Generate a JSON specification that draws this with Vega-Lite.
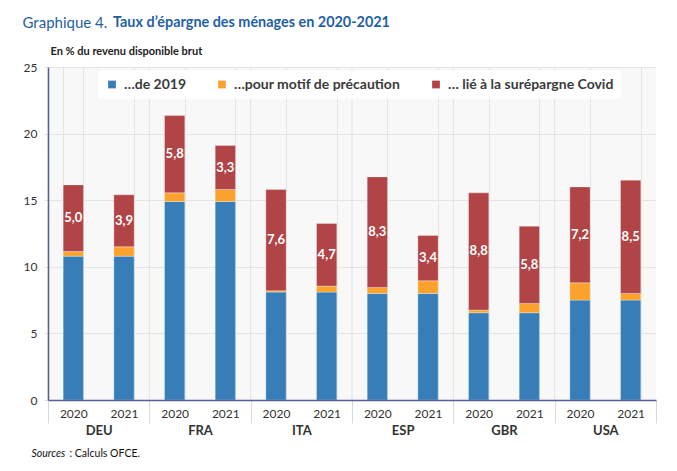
{
  "$schema": "https://vega.github.io/schema/vega-lite/v6.json",
  "width": 608,
  "height": 333,
  "autosize": {"type": "none"},
  "padding": {"left": 48, "top": 67, "right": 21, "bottom": 71},
  "background": "white",
  "title": {"text": "Taux d’épargne des ménages en 2020-2021", "anchor": "start", "frame": "group", "dx": 65, "dy": 19, "font": "Lato", "fontSize": 14.4, "fontWeight": "bold", "color": "#1f5fa6", "offset": 4},
  "datasets": {
    "savings": [
      {"country": "DEU", "year": 2020, "key": "DEU 2020", "segment": "…de 2019", "ord": 1, "value": 10.8, "label": ""},
      {"country": "DEU", "year": 2020, "key": "DEU 2020", "segment": "…pour motif de précaution", "ord": 2, "value": 0.35, "label": ""},
      {"country": "DEU", "year": 2020, "key": "DEU 2020", "segment": "… lié à la surépargne Covid", "ord": 3, "value": 5.0, "label": "5,0"},
      {"country": "DEU", "year": 2021, "key": "DEU 2021", "segment": "…de 2019", "ord": 1, "value": 10.8, "label": ""},
      {"country": "DEU", "year": 2021, "key": "DEU 2021", "segment": "…pour motif de précaution", "ord": 2, "value": 0.7, "label": ""},
      {"country": "DEU", "year": 2021, "key": "DEU 2021", "segment": "… lié à la surépargne Covid", "ord": 3, "value": 3.9, "label": "3,9"},
      {"country": "FRA", "year": 2020, "key": "FRA 2020", "segment": "…de 2019", "ord": 1, "value": 14.9, "label": ""},
      {"country": "FRA", "year": 2020, "key": "FRA 2020", "segment": "…pour motif de précaution", "ord": 2, "value": 0.65, "label": ""},
      {"country": "FRA", "year": 2020, "key": "FRA 2020", "segment": "… lié à la surépargne Covid", "ord": 3, "value": 5.8, "label": "5,8"},
      {"country": "FRA", "year": 2021, "key": "FRA 2021", "segment": "…de 2019", "ord": 1, "value": 14.9, "label": ""},
      {"country": "FRA", "year": 2021, "key": "FRA 2021", "segment": "…pour motif de précaution", "ord": 2, "value": 0.9, "label": ""},
      {"country": "FRA", "year": 2021, "key": "FRA 2021", "segment": "… lié à la surépargne Covid", "ord": 3, "value": 3.3, "label": "3,3"},
      {"country": "ITA", "year": 2020, "key": "ITA 2020", "segment": "…de 2019", "ord": 1, "value": 8.1, "label": ""},
      {"country": "ITA", "year": 2020, "key": "ITA 2020", "segment": "…pour motif de précaution", "ord": 2, "value": 0.1, "label": ""},
      {"country": "ITA", "year": 2020, "key": "ITA 2020", "segment": "… lié à la surépargne Covid", "ord": 3, "value": 7.6, "label": "7,6"},
      {"country": "ITA", "year": 2021, "key": "ITA 2021", "segment": "…de 2019", "ord": 1, "value": 8.1, "label": ""},
      {"country": "ITA", "year": 2021, "key": "ITA 2021", "segment": "…pour motif de précaution", "ord": 2, "value": 0.45, "label": ""},
      {"country": "ITA", "year": 2021, "key": "ITA 2021", "segment": "… lié à la surépargne Covid", "ord": 3, "value": 4.7, "label": "4,7"},
      {"country": "ESP", "year": 2020, "key": "ESP 2020", "segment": "…de 2019", "ord": 1, "value": 8.0, "label": ""},
      {"country": "ESP", "year": 2020, "key": "ESP 2020", "segment": "…pour motif de précaution", "ord": 2, "value": 0.45, "label": ""},
      {"country": "ESP", "year": 2020, "key": "ESP 2020", "segment": "… lié à la surépargne Covid", "ord": 3, "value": 8.3, "label": "8,3"},
      {"country": "ESP", "year": 2021, "key": "ESP 2021", "segment": "…de 2019", "ord": 1, "value": 8.0, "label": ""},
      {"country": "ESP", "year": 2021, "key": "ESP 2021", "segment": "…pour motif de précaution", "ord": 2, "value": 0.95, "label": ""},
      {"country": "ESP", "year": 2021, "key": "ESP 2021", "segment": "… lié à la surépargne Covid", "ord": 3, "value": 3.4, "label": "3,4"},
      {"country": "GBR", "year": 2020, "key": "GBR 2020", "segment": "…de 2019", "ord": 1, "value": 6.55, "label": ""},
      {"country": "GBR", "year": 2020, "key": "GBR 2020", "segment": "…pour motif de précaution", "ord": 2, "value": 0.2, "label": ""},
      {"country": "GBR", "year": 2020, "key": "GBR 2020", "segment": "… lié à la surépargne Covid", "ord": 3, "value": 8.8, "label": "8,8"},
      {"country": "GBR", "year": 2021, "key": "GBR 2021", "segment": "…de 2019", "ord": 1, "value": 6.55, "label": ""},
      {"country": "GBR", "year": 2021, "key": "GBR 2021", "segment": "…pour motif de précaution", "ord": 2, "value": 0.7, "label": ""},
      {"country": "GBR", "year": 2021, "key": "GBR 2021", "segment": "… lié à la surépargne Covid", "ord": 3, "value": 5.8, "label": "5,8"},
      {"country": "USA", "year": 2020, "key": "USA 2020", "segment": "…de 2019", "ord": 1, "value": 7.5, "label": ""},
      {"country": "USA", "year": 2020, "key": "USA 2020", "segment": "…pour motif de précaution", "ord": 2, "value": 1.3, "label": ""},
      {"country": "USA", "year": 2020, "key": "USA 2020", "segment": "… lié à la surépargne Covid", "ord": 3, "value": 7.2, "label": "7,2"},
      {"country": "USA", "year": 2021, "key": "USA 2021", "segment": "…de 2019", "ord": 1, "value": 7.5, "label": ""},
      {"country": "USA", "year": 2021, "key": "USA 2021", "segment": "…pour motif de précaution", "ord": 2, "value": 0.5, "label": ""},
      {"country": "USA", "year": 2021, "key": "USA 2021", "segment": "… lié à la surépargne Covid", "ord": 3, "value": 8.5, "label": "8,5"}
    ],
    "countries": [
      {"country": "DEU"}, {"country": "FRA"}, {"country": "ITA"}, {"country": "ESP"}, {"country": "GBR"}, {"country": "USA"}
    ]
  },
  "layer": [
    {
      "data": {"name": "countries"},
      "mark": {"type": "rule", "color": "#e4e4e4", "strokeWidth": 1},
      "encoding": {
        "x": {"field": "country", "type": "nominal", "sort": null, "bandPosition": 0,
          "scale": {"paddingInner": 0, "paddingOuter": 0},
          "axis": {"orient": "bottom", "labelAngle": 0, "tickBand": "extent", "tickSize": 23, "tickColor": "#d8d8d8", "labelPadding": 1, "labelFont": "Lato", "labelFontSize": 13, "labelFontWeight": "bold", "labelColor": "#333333", "grid": false, "domain": true, "domainColor": "#55608f", "domainWidth": 1.5,
            "title": ": Calculs OFCE.", "titleFont": "Lato", "titleFontWeight": "normal", "titleFontSize": 10.5, "titleColor": "#111111", "titleX": 21, "titleY": 53, "titleAlign": "left", "titleBaseline": "middle", "titleAnchor": "start", "zindex": 1}},
        "y": {"datum": 0, "type": "quantitative",
          "scale": {"domain": [0, 25], "nice": false},
          "axis": {"orient": "left", "values": [0, 5, 10, 15, 20, 25], "labels": false, "ticks": false, "domain": false, "grid": true, "gridColor": "#e4e4e4", "zindex": 0,
            "title": "Graphique 4.", "titleAngle": 0, "titleAlign": "left", "titleBaseline": "alphabetic", "titleX": -26, "titleY": -40, "titleFont": "Lato", "titleFontSize": 15, "titleFontWeight": "normal", "titleColor": "#1f5fa6"}},
        "y2": {"datum": 25}
      }
    },
    {
      "data": {"name": "savings"},
      "layer": [
        {
          "mark": {"type": "bar", "stroke": "white", "strokeWidth": 0.6, "strokeOpacity": 0.5},
          "encoding": {
            "x": {"field": "key", "type": "nominal", "sort": null,
              "scale": {"paddingInner": 0.6, "paddingOuter": 0.3},
              "axis": {"orient": "bottom", "labelExpr": "isString(datum.value) ? slice(datum.value, 4) : ''", "labelAngle": 0, "ticks": false, "labelPadding": 8, "labelFontSize": 12, "labelColor": "#333333", "labelFont": "Lato", "domain": false, "grid": true, "tickBand": "extent", "gridColor": "#e4e4e4", "gridWidth": 1,
                "title": "Sources", "titleFont": "Lato", "titleFontStyle": "italic", "titleFontWeight": "normal", "titleFontSize": 10.5, "titleColor": "#111111", "titleX": -17, "titleY": 53, "titleAlign": "left", "titleBaseline": "middle", "titleAnchor": "start", "zindex": 0}},
            "y": {"field": "value", "type": "quantitative", "stack": "zero",
              "scale": {"domain": [0, 25], "nice": false},
              "axis": {"orient": "left", "values": [0, 5, 10, 15, 20, 25], "grid": false, "tickColor": "#e0e0e0", "tickSize": 4, "labelPadding": 7, "labelFontSize": 12, "labelColor": "#333333", "labelFont": "Lato", "domainColor": "#55608f", "domainWidth": 1.5, "zindex": 1,
                "title": "En % du revenu disponible brut", "titleAngle": 0, "titleAlign": "left", "titleBaseline": "middle", "titleX": 2, "titleY": -16, "titleFont": "Lato", "titleFontSize": 11, "titleFontWeight": "bold", "titleColor": "#222222"}},
            "color": {"field": "segment", "type": "nominal",
              "scale": {"domain": ["…de 2019", "…pour motif de précaution", "… lié à la surépargne Covid"], "range": ["#377eb8", "#fba22c", "#b14446"]},
              "legend": {"orient": "none", "legendX": 50, "legendY": 3.5, "direction": "horizontal", "title": null, "fillColor": "white", "padding": 7, "symbolType": "square", "symbolSize": 60, "symbolStrokeWidth": 0, "labelFont": "Lato", "labelFontSize": 14, "labelFontWeight": "bold", "labelColor": "#3a3a3a", "columnPadding": 28, "labelOffset": 5, "labelLimit": 300}},
            "order": {"field": "ord", "type": "quantitative"}
          }
        },
        {
          "mark": {"type": "text", "color": "white", "fontWeight": "bold", "fontSize": 13, "font": "Lato", "baseline": "middle"},
          "encoding": {
            "x": {"field": "key", "type": "nominal", "sort": null},
            "y": {"field": "value", "type": "quantitative", "stack": "zero", "bandPosition": 0.5},
            "detail": {"field": "segment"},
            "order": {"field": "ord", "type": "quantitative"},
            "text": {"field": "label"}
          }
        }
      ]
    }
  ],
  "resolve": {"scale": {"x": "independent"}, "axis": {"x": "independent", "y": "independent"}},
  "config": {"view": {"fill": "#f8f8f8", "stroke": null}, "font": "Lato"}
}
